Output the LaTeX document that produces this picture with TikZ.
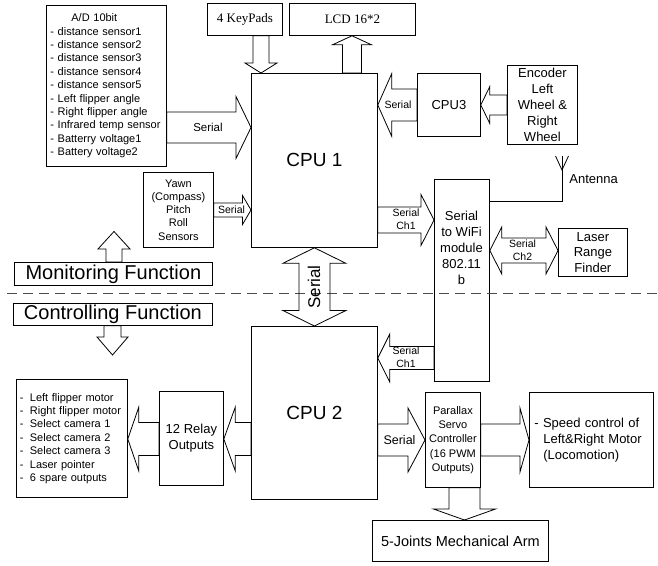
\documentclass[tikz,border=0pt]{standalone}
\usepackage{fontspec}
\setmainfont{Liberation Sans}
\newfontfamily\timesfont{Liberation Serif}
\usetikzlibrary{calc}

\tikzset{
  box/.style={draw, inner sep=0pt, anchor=north west, align=center},
  lbl/.style={inner sep=0pt, align=center, font=\fontsize{10.5}{13}\selectfont},
  fatarrow/.style n args={3}{to path={
    let \p1=(\tikztostart), \p2=(\tikztotarget), \p3=($(\p2)!#3!(\p1)$) in
    ($(\p1)!#1!90:(\p2)$) -- ($(\p3)!#1!90:(\p2)$) -- ($(\p3)!#2!90:(\p2)$) -- (\p2)
    -- ($(\p3)!#2!-90:(\p2)$) -- ($(\p3)!#1!-90:(\p2)$) -- ($(\p1)!#1!-90:(\p2)$) -- cycle}},
  fatdouble/.style n args={3}{to path={
    let \p1=(\tikztostart), \p2=(\tikztotarget), \p3=($(\p1)!#3!(\p2)$), \p4=($(\p2)!#3!(\p1)$) in
    (\p1) -- ($(\p3)!#2!90:(\p2)$) -- ($(\p3)!#1!90:(\p2)$) -- ($(\p4)!#1!90:(\p2)$) -- ($(\p4)!#2!90:(\p2)$) -- (\p2)
    -- ($(\p4)!#2!-90:(\p2)$) -- ($(\p4)!#1!-90:(\p2)$) -- ($(\p3)!#1!-90:(\p2)$) -- ($(\p3)!#2!-90:(\p2)$) -- cycle}},
  divider/.style={draw=black!70, line width=1.3pt, dash pattern=on 10pt off 6pt},
}

\begin{document}
\begin{tikzpicture}[x=1pt, y=-1pt, line width=0.8pt]
  \useasboundingbox (0,0) rectangle (658,565);

  % monitoring side
  \node[box, minimum width=120pt, minimum height=161pt, text width=112pt, inner xsep=4pt, align=left,
        font=\fontsize{11}{13.4}\selectfont] (ad) at (46,5)
    {\hspace*{21pt}A/D 10bit\\- distance sensor1\\- distance sensor2\\- distance sensor3\\- distance sensor4\\
     - distance sensor5\\- Left flipper angle\\- Right flipper angle\\- Infrared temp sensor\\
     - Batterry voltage1\\- Battery voltage2};
  \node[box, minimum width=75pt, minimum height=32pt, font=\timesfont\fontsize{13}{15}\selectfont] (keys) at (207,3) {4 KeyPads};
  \node[box, minimum width=126pt, minimum height=32pt, font=\timesfont\fontsize{13}{15}\selectfont] (lcd) at (289,3) {LCD 16*2};
  \node[box, minimum width=126pt, minimum height=174pt, font=\fontsize{19}{22}\selectfont] (cpu1) at (251,73) {CPU 1};
  \node[box, minimum width=63pt, minimum height=63pt, font=\fontsize{13}{16}\selectfont] (cpu3) at (417,73) {CPU3};
  \node[box, minimum width=70pt, minimum height=79pt, font=\fontsize{13}{16}\selectfont] (enc) at (507,65)
    {Encoder\\Left\\Wheel \&\\Right\\Wheel};
  \node[box, minimum width=70pt, minimum height=75pt, font=\fontsize{11}{13.3}\selectfont] (yawn) at (143,172)
    {Yawn\\(Compass)\\Pitch\\Roll\\Sensors};
  \node[box, minimum width=55pt, minimum height=202pt] (wifi) at (434,179) {};
  \node[lbl, font=\fontsize{13}{16}\selectfont] (wifitxt) at (461.5,247.5) {Serial\\to WiFi\\module\\802.11\\b};
  \node[box, minimum width=69pt, minimum height=48pt, font=\fontsize{13}{15.5}\selectfont] (laser) at (558,228)
    {Laser\\Range\\Finder};
  \node[box, minimum width=198pt, minimum height=23pt, font=\fontsize{20}{22}\selectfont] (mon) at (14,262) {Monitoring Function};

  % controlling side
  \node[box, minimum width=199pt, minimum height=22pt, font=\fontsize{20}{22}\selectfont] (ctrl) at (13,303) {Controlling Function};
  \node[box, minimum width=126pt, minimum height=173pt, font=\fontsize{19}{22}\selectfont] (cpu2) at (251,326) {CPU 2};
  \node[box, minimum width=64pt, minimum height=94pt, font=\fontsize{13}{15.7}\selectfont] (relay) at (159,391) {12 Relay\\Outputs};
  \node[box, minimum width=111pt, minimum height=118pt, text width=104pt, inner xsep=3.5pt, align=left,
        font=\fontsize{11}{13.4}\selectfont] (outs) at (16,379)
    {\makebox[10pt][l]{-}Left flipper motor\\\makebox[10pt][l]{-}Right flipper motor\\
     \makebox[10pt][l]{-}Select camera 1\\\makebox[10pt][l]{-}Select camera 2\\
     \makebox[10pt][l]{-}Select camera 3\\\makebox[10pt][l]{-}Laser pointer\\
     \makebox[10pt][l]{-}6 spare outputs};
  \node[box, minimum width=55pt, minimum height=95pt, font=\fontsize{11}{14.3}\selectfont] (servo) at (425,392)
    {Parallax\\Servo\\Controller\\(16 PWM\\Outputs)};
  \node[box, minimum width=124pt, minimum height=95pt, text width=114pt, inner xsep=5pt, align=left,
        font=\fontsize{13}{16}\selectfont] (speed) at (529,392)
    {- Speed control of\\\hspace*{9pt}Left\&Right Motor\\\hspace*{9pt}(Locomotion)};
  \node[box, minimum width=176pt, minimum height=41pt, font=\fontsize{14.5}{17}\selectfont] (arm) at (372,520)
    {5-Joints Mechanical Arm};

  \draw[divider] (7,293.5) -- (657,293.5);

  % block arrows: shaft half width, head half width, head length
  \draw[fatarrow={15.5pt}{31pt}{15pt}] (ad.east |- 0,127.5) to (cpu1.west |- 0,127.5);
  \draw[fatarrow={8pt}{16pt}{10pt}] (keys.south -| 261,0) to (cpu1.north -| 261,0);
  \draw[fatarrow={9.5pt}{19.5pt}{9pt}] (cpu1.north -| 352,0) to (lcd.south -| 352,0);
  \draw[fatarrow={16pt}{31.5pt}{14pt}] (cpu3.west |- 0,105) to (cpu1.east |- 0,105);
  \draw[fatarrow={10pt}{18.5pt}{9pt}] (enc.west |- 0,105) to (cpu3.east |- 0,105);
  \draw[fatarrow={7pt}{14.5pt}{8.5pt}] (yawn.east |- 0,210) to (cpu1.west |- 0,210);
  \draw[fatarrow={13pt}{25.5pt}{13pt}] (cpu1.east |- 0,220) to (wifi.west |- 0,220);
  \draw[fatdouble={12.5pt}{23.5pt}{12pt}] (wifi.east |- 0,250.5) to (laser.west |- 0,250.5);
  \coordinate (monup) at (114,231.5);
  \draw[fatarrow={8pt}{16pt}{17.5pt}] (mon.north -| monup) to (monup);
  \coordinate (ctrldown) at (112.5,355);
  \draw[fatarrow={8.5pt}{15.5pt}{18pt}] (ctrl.south -| ctrldown) to (ctrldown);
  \draw[fatdouble={15.5pt}{31.5pt}{15.5pt}] (cpu1.south) to (cpu2.north);
  \draw[fatarrow={11.5pt}{24pt}{12pt}] (wifi.west |- 0,358) to (cpu2.east |- 0,358);
  \draw[fatarrow={16pt}{32pt}{17pt}] (cpu2.east |- 0,440) to (servo.west |- 0,440);
  \draw[fatarrow={16pt}{32pt}{9pt}] (servo.east |- 0,440) to (speed.west |- 0,440);
  \draw[fatarrow={16.5pt}{32pt}{11.5pt}] (cpu2.west |- 0,439) to (relay.east |- 0,439);
  \draw[fatarrow={16.5pt}{32pt}{11pt}] (relay.west |- 0,439) to (outs.east |- 0,439);
  \draw[fatarrow={15.5pt}{31pt}{11pt}] (servo.south -| 464.5,0) to (arm.north -| 464.5,0);

  % antenna
  \coordinate (anttop) at (562,156);
  \draw (wifi.east |- 0,201.5) -| (anttop);
  \draw (555.5,156) -- (562,170) -- (568.5,156);

  % arrow labels
  \node[lbl, font=\fontsize{11.5}{13}\selectfont] (adser) at (208,127.5) {Serial};
  \node[lbl] (cpu3ser) at (398,105) {Serial};
  \node[lbl] (yawnser) at (231.5,209.5) {Serial};
  \node[lbl] (wifich1) at (406,219.5) {Serial\\Ch1};
  \node[lbl] (laserch2) at (522.5,250) {Serial\\Ch2};
  \node[lbl] (cpu2ch1) at (406,357.5) {Serial\\Ch1};
  \node[lbl, font=\fontsize{12.5}{14}\selectfont] (servoser) at (399.5,440) {Serial};
  \node[lbl, font=\fontsize{17}{19}\selectfont, rotate=90] (cpuser) at (314,287) {Serial};
  \node[lbl, font=\fontsize{13}{15}\selectfont, anchor=west] (ant) at (569,179) {Antenna};
\end{tikzpicture}
\end{document}
